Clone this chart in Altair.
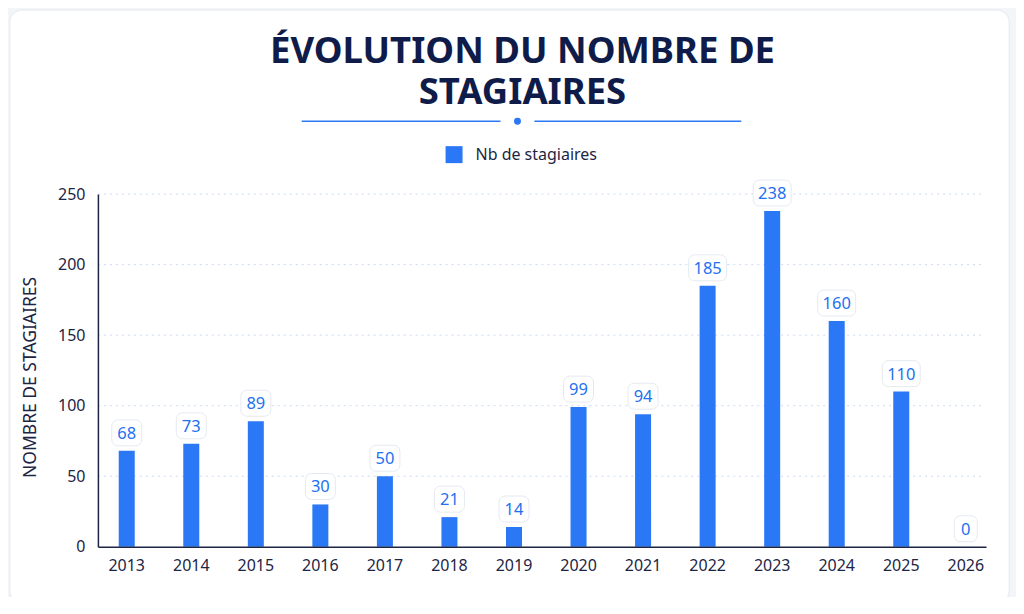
import altair as alt
import pandas as pd

years = ["2013", "2014", "2015", "2016", "2017", "2018", "2019",
         "2020", "2021", "2022", "2023", "2024", "2025", "2026"]
stagiaires = [68, 73, 89, 30, 50, 21, 14, 99, 94, 185, 238, 160, 110, 0]
y_ticks = [0, 50, 100, 150, 200, 250]
series_name = "Nb de stagiaires"
title_lines = ["ÉVOLUTION DU NOMBRE DE", "STAGIAIRES"]
y_title = "NOMBRE DE STAGIAIRES"

BLUE = "#2a78f6"
NAVY = "#0f1c4a"
TEXT = "#1c2544"
FONT = "Noto Sans"

df = pd.DataFrame({"year": years, "value": stagiaires, "series": series_name})
ticks_df = pd.DataFrame({"tick": y_ticks})
one = pd.DataFrame({"k": [0]})

W, H = 889, 353

xscale = alt.Scale(paddingInner=0.752, paddingOuter=0.256, align=0.63)
yscale = alt.Scale(domain=[0, 250])

base = alt.Chart(df)

card_shadow = alt.Chart(one).mark_rect(
    fill="#e9ecf2", cornerRadius=13
).encode(
    x=alt.value(-89), x2=alt.value(913), y=alt.value(-185), y2=alt.value(411)
)
card = alt.Chart(one).mark_rect(
    fill="white", cornerRadius=12, stroke="#eceff4", strokeWidth=1
).encode(
    x=alt.value(-88), x2=alt.value(912), y=alt.value(-184), y2=alt.value(409)
)

title = alt.Chart(one).mark_text(
    font=FONT, fontSize=36.5, fontWeight="bold", color=NAVY,
    align="center", baseline="alphabetic", lineHeight=41
).encode(x=alt.value(425), y=alt.value(-131), text=alt.value(title_lines))

line_l = alt.Chart(one).mark_rule(color=BLUE, strokeWidth=1.5).encode(
    x=alt.value(204), x2=alt.value(403), y=alt.value(-73)
)
line_r = alt.Chart(one).mark_rule(color=BLUE, strokeWidth=1.5).encode(
    x=alt.value(437), x2=alt.value(644), y=alt.value(-73)
)
dot = alt.Chart(one).mark_point(
    filled=True, color=BLUE, size=48, shape="circle", opacity=1
).encode(x=alt.value(420), y=alt.value(-73))

grid = alt.Chart(ticks_df).transform_filter("datum.tick > 0").mark_rule(
    color="#cbdaf4", strokeDash=[2, 4], strokeWidth=1
).encode(
    y=alt.Y("tick:Q", scale=yscale), x=alt.value(0), x2=alt.value(886)
)

axis_common = dict(
    labelFont=FONT, labelFontSize=16, labelColor=TEXT,
    titleFont=FONT, titleFontSize=17.5, titleColor=TEXT, titleFontWeight="normal",
    domainColor=TEXT, domainWidth=1.5, ticks=False, grid=False, zindex=2,
)

bars = base.mark_bar(color=BLUE).encode(
    x=alt.X("year:N", scale=xscale, sort=years,
            axis=alt.Axis(title=None, labelAngle=0, labelPadding=11,
                          **axis_common)),
    y=alt.Y("value:Q", scale=yscale,
            axis=alt.Axis(title=y_title, values=y_ticks, labelPadding=13,
                          titlePadding=18, titleY=183, **axis_common)),
    color=alt.Color("series:N", scale=alt.Scale(range=[BLUE]),
                    legend=alt.Legend(title=None, orient="none",
                                      legendX=348, legendY=-48, zindex=2)),
)

def box(ndig, width):
    return base.transform_filter(
        f"length(toString(datum.value)) == {ndig}"
    ).mark_bar(
        width=width, fill="white", stroke="#e4e9f1", strokeWidth=1,
        cornerRadius=6, yOffset=-5, y2Offset=-31
    ).encode(
        x=alt.X("year:N", scale=xscale, sort=years),
        y=alt.Y("value:Q", scale=yscale),
        y2="value:Q",
    )

labels = base.mark_text(
    font=FONT, fontSize=16.5, color="#2370f0", baseline="middle", dy=-17
).encode(
    x=alt.X("year:N", scale=xscale, sort=years),
    y=alt.Y("value:Q", scale=yscale),
    text="value:Q",
)

chart = alt.layer(
    card_shadow, card, title, line_l, line_r, dot, grid,
    bars, box(1, 23), box(2, 30), box(3, 38), labels
).properties(
    width=W, height=H,
    autosize=alt.AutoSizeParams(type="none"),
    padding={"left": 90, "top": 186, "right": 30, "bottom": 50},
    background="#f4f5f8",
).configure_view(
    stroke=None
).configure_legend(
    symbolType="square", symbolSize=289, symbolStrokeWidth=0,
    labelFont=FONT, labelFontSize=16, labelColor=TEXT, labelOffset=13,
    padding=0,
)

chart.save("out.html", embed_options={"renderer": "svg", "actions": False})
